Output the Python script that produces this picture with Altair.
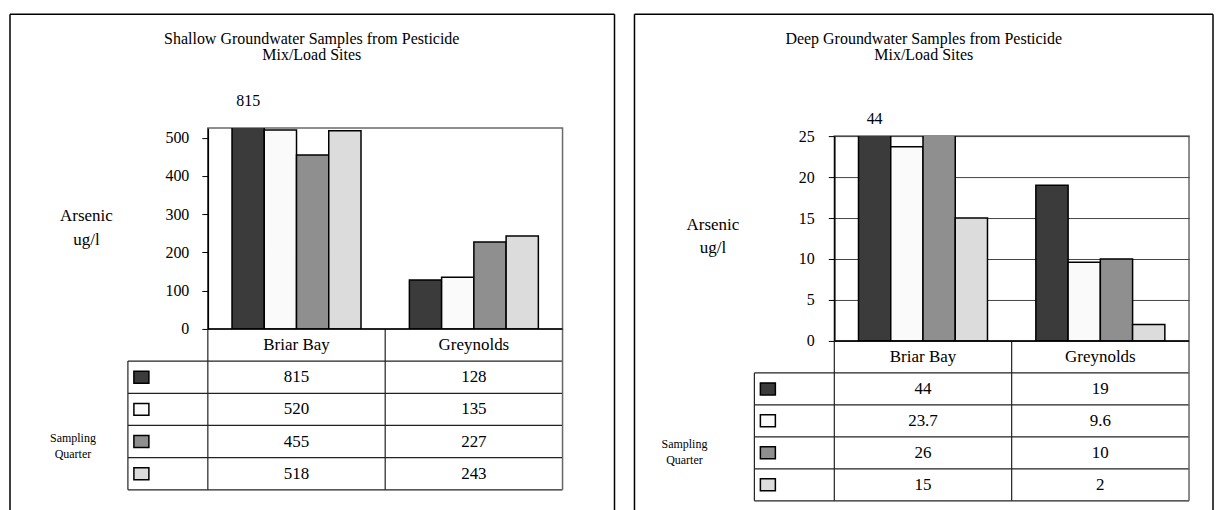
import altair as alt
import pandas as pd

FONT = "Liberation Serif"

# ---------------- data ----------------
sites = ["Briar Bay", "Greynolds"]
quarters = ["1", "2", "3", "4"]
quarter_fills = ["#3b3b3b", "#fafafa", "#8f8f8f", "#dcdcdc"]

shallow_briar_bay = [815, 520, 455, 518]
shallow_greynolds = [128, 135, 227, 243]
deep_briar_bay = [44, 23.7, 26, 15]
deep_greynolds = [19, 9.6, 10, 2]

# values printed above the clipped bars
shallow_printed = [815]
deep_printed = [44]

shallow_title = ["Shallow Groundwater Samples from Pesticide", "Mix/Load Sites"]
deep_title = ["Deep Groundwater Samples from Pesticide", "Mix/Load Sites"]
y_title = ["Arsenic", "ug/l"]
legend_title = ["Sampling", "Quarter"]
shallow_ticks = [0, 100, 200, 300, 400, 500]
deep_ticks = [0, 5, 10, 15, 20, 25]
shallow_max = 525
deep_max = 25

table_rows = ["site"] + quarters
W = 355


def panel(title, briar, grey, printed, ymax, ticks, grid, lay):
    df = pd.DataFrame({
        "site": [sites[0]] * 4 + [sites[1]] * 4,
        "quarter": quarters * 2,
        "value": list(briar) + list(grey),
    })
    df["label"] = df["value"].map(lambda v: f"{v:g}")

    # ---- header: frame + title ----
    hb = alt.Chart(pd.DataFrame({"k": [0]}))
    rk = dict(color="black", strokeWidth=1.5)
    f_left = hb.mark_rule(**rk).encode(x=alt.value(lay["fl"]), y=alt.value(0), y2=alt.value(lay["fb"]))
    f_right = hb.mark_rule(**rk).encode(x=alt.value(lay["fr"]), y=alt.value(0), y2=alt.value(lay["fb"]))
    f_top = hb.mark_rule(**rk).encode(x=alt.value(lay["fl"]), x2=alt.value(lay["fr"]), y=alt.value(0))
    ttl = hb.mark_text(text=title, font=FONT, fontSize=16, lineHeight=16.5, align="center",
                       baseline="alphabetic", color="black").encode(
        x=alt.value(lay["tx"]), y=alt.value(29.5))
    header = alt.layer(f_left, f_right, f_top, ttl).properties(
        width=W, height=lay["hh"], view=alt.ViewBackground(stroke="transparent"))

    # ---- bar plot ----
    xs = alt.X("site:N", sort=sites, scale=alt.Scale(domain=sites, paddingInner=0, paddingOuter=0), axis=None)
    xo = alt.XOffset("quarter:N", sort=quarters,
                     scale=alt.Scale(domain=quarters, paddingInner=0, paddingOuter=0.75))
    fill = alt.Fill("quarter:N", scale=alt.Scale(domain=quarters, range=quarter_fills), legend=None)
    yax = alt.Axis(values=ticks, title=y_title, titleAngle=0, titleX=-122, titleY=lay["ty"],
                   titleAlign="center", titleBaseline="alphabetic", titleFont=FONT, titleFontSize=17,
                   titleFontWeight="normal", titleColor="black", titleLineHeight=24,
                   labelFont=FONT, labelFontSize=16, labelColor="black", labelPadding=lay["lp"],
                   tickSize=6, tickColor="black", tickWidth=1, domainColor="black", domainWidth=1.5,
                   grid=grid, gridColor="#444444", gridWidth=1)
    bars = alt.Chart(df).mark_bar(stroke="black", strokeWidth=1.5, clip=True).encode(
        x=xs, xOffset=xo,
        y=alt.Y("value:Q", scale=alt.Scale(domain=[0, ymax], nice=False), axis=yax),
        fill=fill)
    over = alt.Chart(df[df["value"].isin(printed)]).mark_text(
        font=FONT, fontSize=16, color="black", baseline="middle").encode(
        x=xs, xOffset=xo, y=alt.value(lay["oy"]), text="label:N")
    plot = alt.layer(bars, over).properties(
        width=W, height=lay["ph"], view=alt.ViewBackground(stroke="#6a6a6a", strokeWidth=1.5))

    # ---- data table ----
    H = lay["th"]
    tdf = pd.concat([
        pd.DataFrame({"site": sites, "row": ["site"] * 2, "text": sites}),
        pd.DataFrame({"site": df["site"], "row": df["quarter"], "text": df["label"]}),
    ], ignore_index=True)
    ysc = alt.Scale(domain=table_rows, paddingInner=0, paddingOuter=0)
    tx = alt.X("site:N", scale=alt.Scale(domain=sites, paddingInner=0, paddingOuter=0), axis=None)
    ty = alt.Y("row:N", scale=ysc, axis=None)
    qdf = pd.DataFrame({"row": quarters})
    sdf = pd.DataFrame({"site": sites})
    lc = "#222222"
    texts = alt.Chart(tdf).mark_text(font=FONT, fontSize=17, color="black", baseline="middle").encode(
        x=tx, y=ty, text="text:N")
    hlines = alt.Chart(qdf).mark_rule(color=lc, strokeWidth=1.2).encode(
        x=alt.value(-80), x2=alt.value(W),
        y=alt.Y("row:N", scale=ysc, axis=None, bandPosition=0))
    bottom = alt.Chart(qdf.head(1)).mark_rule(color=lc, strokeWidth=1.2).encode(
        x=alt.value(-80), x2=alt.value(W), y=alt.value(H))
    topline = alt.Chart(qdf.head(1)).mark_rule(color="black", strokeWidth=1.5).encode(
        x=alt.value(0), x2=alt.value(W), y=alt.value(0))
    leftedge = alt.Chart(qdf.head(1)).mark_rule(color=lc, strokeWidth=1.2).encode(
        x=alt.value(-80), y=alt.Y("row:N", scale=ysc, axis=None, bandPosition=0), y2=alt.value(H))
    vlines = alt.Chart(sdf).mark_rule(color=lc, strokeWidth=1.2).encode(
        x=alt.X("site:N", scale=alt.Scale(domain=sites, paddingInner=0, paddingOuter=0), axis=None,
                bandPosition=0),
        y=alt.value(0), y2=alt.value(H))
    rightedge = alt.Chart(qdf.head(1)).mark_rule(color="#666666", strokeWidth=1.5).encode(
        x=alt.value(W), y=alt.value(0), y2=alt.value(H))
    swatch = alt.Chart(qdf).mark_point(shape="M-1,-0.8H1V0.8H-1Z", size=225, filled=True,
                                       stroke="black", strokeWidth=1.5, opacity=1).encode(
        x=alt.value(-66.5), y=ty,
        fill=alt.Fill("row:N", scale=alt.Scale(domain=quarters, range=quarter_fills), legend=None))
    ltxt = alt.Chart(qdf.head(1)).mark_text(text=legend_title, font=FONT, fontSize=12, lineHeight=16,
                                            align="center", baseline="middle", color="black").encode(
        x=alt.value(lay["sx"]), y=alt.value(lay["sy"]))
    table = alt.layer(hlines, bottom, leftedge, vlines, rightedge, topline, swatch, texts, ltxt).properties(
        width=W, height=H, view=alt.ViewBackground(stroke="transparent"))

    return alt.VConcatChart(vconcat=[header, plot, table], spacing=0, bounds="flush").resolve_scale(
        x="independent", y="independent")


left = panel(shallow_title, shallow_briar_bay, shallow_greynolds, shallow_printed, shallow_max,
             shallow_ticks, False,
             dict(fl=-198, fr=407, fb=497, tx=104, hh=114, ph=201, th=161, ty=92, lp=13, oy=-27,
                  sx=-135, sy=109))
right = panel(deep_title, deep_briar_bay, deep_greynolds, deep_printed, deep_max, deep_ticks, True,
              dict(fl=-200, fr=379, fb=497, tx=89.5, hh=122, ph=205, th=160, ty=93, lp=14, oy=-17,
                   sx=-150, sy=103))

chart = alt.HConcatChart(hconcat=[left, right], spacing=627, bounds="flush").resolve_scale(
    x="independent", y="independent").properties(
    padding={"left": 0, "top": 4, "right": 2, "bottom": 0},
    background="white",
).configure_view(stroke="transparent")

chart.save("out.html", embed_options={"renderer": "svg", "actions": False})
